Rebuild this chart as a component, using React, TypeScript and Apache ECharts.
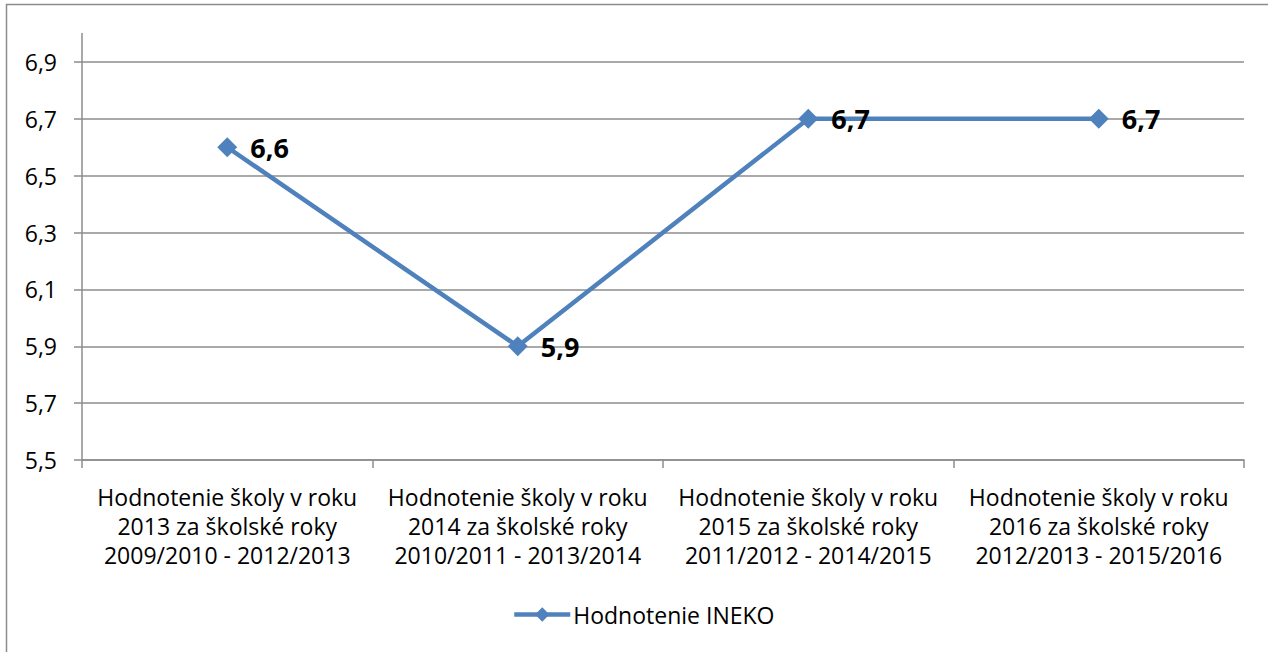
import React, { useEffect, useRef } from "react";
import * as echarts from "echarts";

const categories = [
  "Hodnotenie školy v roku\n2013 za školské roky\n2009/2010 - 2012/2013",
  "Hodnotenie školy v roku\n2014 za školské roky\n2010/2011 - 2013/2014",
  "Hodnotenie školy v roku\n2015 za školské roky\n2011/2012 - 2014/2015",
  "Hodnotenie školy v roku\n2016 za školské roky\n2012/2013 - 2015/2016",
];
const seriesName = "Hodnotenie INEKO";
const values = [6.6, 5.9, 6.7, 6.7];
const yTicks = [5.5, 5.7, 5.9, 6.1, 6.3, 6.5, 6.7, 6.9];

const fmt = (v: number) => v.toFixed(1).replace(".", ",");
const FONT = "'Open Sans', 'Noto Sans', sans-serif";
const GRAY = "#8c8c8c";
const BLUE = "#4F81BD";

export default function App() {
  const ref = useRef<HTMLDivElement>(null);
  useEffect(() => {
    if (!ref.current) return;
    const chart = echarts.init(ref.current, null, { renderer: "svg" });
    chart.setOption({
      animation: false,
      backgroundColor: "#ffffff",
      graphic: [
        {
          type: "rect",
          shape: { x: 6.5, y: 4.5, width: 1300, height: 700 },
          style: { fill: "none", stroke: GRAY, lineWidth: 1.5 },
          silent: true,
        },
      ],
      grid: { left: 82, right: 24, top: 33.5, bottom: 192 },
      legend: {
        data: [seriesName],
        top: 598,
        left: 507,
        itemWidth: 56,
        itemHeight: 18,
        itemGap: 10,
        lineStyle: { width: 4.5 },
        textStyle: { fontFamily: FONT, fontSize: 23, color: "#000", padding: [0, 0, 0, -2] },
      },
      xAxis: {
        type: "category",
        data: categories,
        boundaryGap: true,
        axisLine: { lineStyle: { color: GRAY, width: 1.5 } },
        axisTick: { show: true, length: 8, lineStyle: { color: GRAY, width: 1.5 } },
        axisLabel: {
          interval: 0,
          margin: 22,
          fontFamily: FONT,
          fontSize: 23,
          lineHeight: 29,
          color: "#000",
        },
      },
      yAxis: {
        type: "value",
        min: 5.5,
        max: 7.0,
        axisLine: { show: true, lineStyle: { color: GRAY, width: 1.5 } },
        axisTick: {
          show: true,
          length: 8,
          customValues: yTicks,
          lineStyle: { color: GRAY, width: 1.5 },
        },
        splitLine: { show: true, lineStyle: { color: GRAY, width: 1.5 } },
        axisLabel: {
          customValues: yTicks,
          margin: 25,
          fontFamily: FONT,
          fontSize: 23,
          color: "#000",
          formatter: (v: number) => fmt(v),
        },
      },
      series: [
        {
          name: seriesName,
          type: "line",
          data: values,
          symbol: "diamond",
          symbolSize: 20,
          itemStyle: { color: BLUE },
          lineStyle: { color: BLUE, width: 4.5 },
          label: {
            show: true,
            position: "right",
            distance: 13,
            fontFamily: FONT,
            fontSize: 27,
            fontWeight: "bold",
            color: "#000",
            formatter: (p: any) => fmt(p.value),
          },
        },
      ],
    });
    return () => chart.dispose();
  }, []);
  return (
    <div
      ref={ref}
      style={{ position: "fixed", left: 0, top: 0, width: 1268, height: 652 }}
    />
  );
}
